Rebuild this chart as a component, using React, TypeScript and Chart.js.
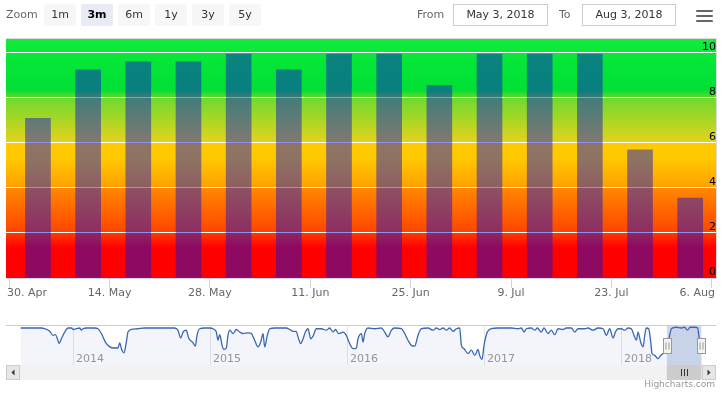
import React, { useEffect, useRef } from "react";
import { Chart, registerables } from "chart.js";

Chart.register(...registerables);

// ---------- data ----------
const AXIS_ORIGIN = "2018-04-30";
const weekDates = [
  "2018-05-04", "2018-05-11", "2018-05-18", "2018-05-25", "2018-06-01", "2018-06-08", "2018-06-15",
  "2018-06-22", "2018-06-29", "2018-07-06", "2018-07-13", "2018-07-20", "2018-07-27", "2018-08-03",
];
const weekValues = [7.1, 9.25, 9.6, 9.6, 9.95, 9.25, 9.95, 9.95, 8.55, 9.95, 9.95, 9.95, 5.7, 3.55];

const tickDates = [
  "2018-04-30", "2018-05-14", "2018-05-28", "2018-06-11", "2018-06-25", "2018-07-09", "2018-07-23", "2018-08-06",
];
const tickLabels = ["30. Apr", "14. May", "28. May", "11. Jun", "25. Jun", "9. Jul", "23. Jul", "6. Aug"];
const yTicks = [0, 2, 4, 6, 8, 10];
const yMax = 10.62;
const xMinDay = -0.46;
const xMaxDay = 98.6;

const navYears = [
  2013.618, 2013.769, 2013.793, 2013.83, 2013.854, 2013.871, 2013.886, 2013.898, 2013.915, 2013.939, 2013.964, 2013.988,
  2014.0, 2014.024, 2014.049, 2014.061, 2014.073, 2014.097, 2014.158, 2014.182, 2014.207, 2014.236, 2014.268, 2014.304,
  2014.328, 2014.341, 2014.353, 2014.372, 2014.389, 2014.401, 2014.426, 2014.474, 2014.523, 2014.572, 2014.62, 2014.693,
  2014.742, 2014.766, 2014.786, 2014.803, 2014.827, 2014.844, 2014.876, 2014.893, 2014.905, 2014.925, 2014.961, 2014.998,
  2015.022, 2015.046, 2015.058, 2015.071, 2015.088, 2015.102, 2015.119, 2015.131, 2015.144, 2015.168, 2015.192, 2015.217,
  2015.241, 2015.277, 2015.302, 2015.326, 2015.35, 2015.37, 2015.387, 2015.399, 2015.418, 2015.436, 2015.472, 2015.521,
  2015.557, 2015.582, 2015.606, 2015.63, 2015.642, 2015.662, 2015.679, 2015.696, 2015.715, 2015.735, 2015.752, 2015.776,
  2015.813, 2015.849, 2015.873, 2015.898, 2015.915, 2015.939, 2015.971, 2015.995, 2016.019, 2016.044, 2016.068, 2016.08,
  2016.105, 2016.117, 2016.129, 2016.153, 2016.202, 2016.251, 2016.275, 2016.299, 2016.324, 2016.348, 2016.397, 2016.421,
  2016.445, 2016.47, 2016.494, 2016.518, 2016.543, 2016.591, 2016.628, 2016.652, 2016.676, 2016.701, 2016.725, 2016.749,
  2016.774, 2016.798, 2016.822, 2016.835, 2016.854, 2016.883, 2016.908, 2016.932, 2016.956, 2016.968, 2016.985, 2017.0,
  2017.024, 2017.054, 2017.102, 2017.151, 2017.2, 2017.248, 2017.273, 2017.292, 2017.309, 2017.345, 2017.37, 2017.389,
  2017.418, 2017.438, 2017.467, 2017.491, 2017.516, 2017.54, 2017.577, 2017.601, 2017.637, 2017.662, 2017.686, 2017.735,
  2017.759, 2017.796, 2017.832, 2017.869, 2017.893, 2017.917, 2017.942, 2017.959, 2017.978, 2018.002, 2018.027, 2018.051,
  2018.075, 2018.095, 2018.112, 2018.124, 2018.143, 2018.161, 2018.173, 2018.185, 2018.202, 2018.217, 2018.226, 2018.246,
  2018.27, 2018.29, 2018.307, 2018.331, 2018.355, 2018.367, 2018.404, 2018.44, 2018.465, 2018.484, 2018.504, 2018.54,
  2018.56, 2018.569, 2018.589,
];
const navValues = [
  10.0, 10.0, 9.8, 9.1, 8.0, 8.2, 7.1, 5.8, 7.1, 8.9, 10.0, 10.0,
  9.6, 9.8, 10.0, 9.4, 9.8, 10.0, 10.0, 9.8, 8.5, 6.2, 4.9, 4.6,
  4.6, 6.0, 4.4, 3.3, 6.2, 8.9, 9.6, 9.8, 10.0, 10.0, 10.0, 10.0,
  10.0, 9.4, 7.3, 8.9, 9.4, 7.3, 6.0, 5.1, 8.0, 9.8, 10.0, 10.0,
  9.8, 8.9, 6.7, 8.2, 5.3, 4.2, 4.6, 8.0, 9.4, 8.5, 9.6, 8.9,
  8.5, 8.7, 8.5, 6.7, 4.9, 6.2, 8.5, 4.9, 8.0, 9.8, 10.0, 10.0,
  10.0, 9.6, 9.1, 9.1, 7.6, 5.8, 7.1, 8.9, 9.8, 7.1, 7.8, 9.8,
  9.8, 9.4, 10.0, 8.9, 9.6, 8.5, 8.9, 8.0, 5.8, 4.4, 4.6, 7.1,
  8.5, 6.2, 8.5, 10.0, 9.8, 10.0, 8.9, 7.6, 9.4, 10.0, 9.8, 8.5,
  6.7, 5.3, 5.1, 8.0, 9.8, 10.0, 9.4, 10.0, 9.6, 10.0, 9.4, 10.0,
  9.1, 9.8, 10.0, 5.3, 4.4, 3.1, 4.0, 2.6, 4.2, 2.6, 1.5, 5.3,
  8.9, 9.8, 10.0, 10.0, 10.0, 9.8, 10.0, 8.9, 9.8, 10.0, 9.4, 10.0,
  8.9, 10.0, 8.5, 9.4, 8.2, 9.8, 9.6, 10.0, 10.0, 8.9, 9.8, 9.8,
  10.0, 9.4, 10.0, 9.8, 8.0, 9.8, 7.3, 8.9, 9.8, 9.8, 9.4, 10.0,
  9.8, 8.0, 6.7, 8.9, 6.2, 4.9, 8.0, 10.0, 9.8, 6.2, 3.1, 2.6,
  1.7, 2.6, 3.1, 3.5, 8.0, 9.8, 10.2, 10.0, 10.2, 9.4, 10.2, 10.2,
  10.0, 7.6, 6.0,
];
const navYearTicks = [2014, 2015, 2016, 2017, 2018];
const navMin = 2013.613;
const navMax = 2018.591;
const navYMax = 10.81;
const rangeFrom = "2018-05-03";
const rangeTo = "2018-08-03";
const rangeButtons = ["1m", "3m", "6m", "1y", "3y", "5y"];
const selectedButton = "3m";
const fromText = "May 3, 2018";
const toText = "Aug 3, 2018";

// ---------- styles ----------
const FONT = "'DejaVu Sans', 'Noto Sans', sans-serif";
const BAR_COLOR = "rgba(15, 20, 208, 0.47)";
const BG_STOPS: [number, string][] = [
  [0, "#ff0000"],
  [1.35, "#ff0000"],
  [1.98, "#ff3800"],
  [2.02, "#ff4400"],
  [3.98, "#ff8800"],
  [4.02, "#ffa000"],
  [5.3, "#ffc800"],
  [5.98, "#ffcc00"],
  [6.02, "#e6d21c"],
  [7.95, "#72da2e"],
  [8.1, "#50d92c"],
  [8.35, "#00df35"],
  [9.6, "#06e638"],
  [10.62, "#12ec3c"],
];

const MS_DAY = 86400000;
const dayOf = (d: string) => (Date.parse(d) - Date.parse(AXIS_ORIGIN)) / MS_DAY;
const yearFrac = (d: string) => {
  const t = Date.parse(d);
  const y = new Date(t).getUTCFullYear();
  const a = Date.UTC(y, 0, 1);
  const b = Date.UTC(y + 1, 0, 1);
  return y + (t - a) / (b - a);
};

const plotBgPlugin = {
  id: "plotBg",
  beforeDraw(chart: any) {
    const { ctx, chartArea: a, scales } = chart;
    const y = scales.y;
    const y0 = y.getPixelForValue(0);
    const y1 = y.getPixelForValue(yMax);
    const g = ctx.createLinearGradient(0, y0, 0, y1);
    BG_STOPS.forEach(([v, c]) => g.addColorStop(Math.min(1, v / yMax), c));
    ctx.save();
    ctx.fillStyle = g;
    ctx.fillRect(a.left, a.top, a.right - a.left, a.bottom - a.top);
    ctx.strokeStyle = "#dcdcdc";
    ctx.lineWidth = 1;
    ctx.beginPath();
    ctx.moveTo(a.left, a.top - 0.5);
    ctx.lineTo(a.right + 0.5, a.top - 0.5);
    ctx.lineTo(a.right + 0.5, a.bottom);
    ctx.stroke();
    ctx.restore();

    // justify edge x-axis labels inside the plot width (Highcharts "overflow: justify")
    const sx = scales.x;
    const items = sx.getLabelItems(a);
    ctx.save();
    ctx.font = `11px ${FONT}`;
    items.forEach((it: any) => {
      const label = Array.isArray(it.label) ? it.label.join(" ") : String(it.label);
      const w = ctx.measureText(label).width;
      const cx = it.options.translation[0];
      if (cx - w / 2 < a.left + 1) it.options.translation[0] = a.left + 1 + w / 2;
      else if (cx + w / 2 > a.right - 1) it.options.translation[0] = a.right - 1 - w / 2;
    });
    ctx.restore();
  },
};

const navPlugin = {
  id: "navDeco",
  beforeDatasetsDraw(chart: any) {
    const { ctx, chartArea: a, scales } = chart;
    const l = scales.x.getPixelForValue(yearFrac(rangeFrom));
    const r = scales.x.getPixelForValue(yearFrac(rangeTo));
    ctx.save();
    ctx.fillStyle = "rgba(102,133,194,0.3)";
    ctx.fillRect(l, a.top, r - l, a.bottom - a.top);
    ctx.restore();
  },
  afterDraw(chart: any) {
    const { ctx, chartArea: a, scales, width } = chart;
    const l = scales.x.getPixelForValue(yearFrac(rangeFrom));
    const r = scales.x.getPixelForValue(yearFrac(rangeTo));
    ctx.save();
    // outline
    ctx.strokeStyle = "#cccccc";
    ctx.lineWidth = 1;
    ctx.beginPath();
    ctx.moveTo(6, a.top + 0.5);
    ctx.lineTo(width - 6, a.top + 0.5);
    ctx.stroke();
    // scrollbar track
    const sTop = a.bottom;
    const sH = 15;
    ctx.fillStyle = "#f2f2f2";
    ctx.fillRect(6, sTop, width - 12, sH);
    // buttons
    const btn = (x: number, dir: number) => {
      ctx.fillStyle = "#e6e6e6";
      ctx.fillRect(x, sTop, 14, sH);
      ctx.strokeStyle = "#cccccc";
      ctx.strokeRect(x + 0.5, sTop + 0.5, 13, sH - 1);
      ctx.fillStyle = "#333333";
      const cx = x + 7;
      const cy = sTop + sH / 2;
      ctx.beginPath();
      ctx.moveTo(cx - 1.5 * dir, cy);
      ctx.lineTo(cx + 1.5 * dir, cy - 3);
      ctx.lineTo(cx + 1.5 * dir, cy + 3);
      ctx.closePath();
      ctx.fill();
    };
    btn(6, 1);
    btn(width - 20, -1);
    // thumb
    ctx.fillStyle = "#cccccc";
    ctx.fillRect(l, sTop, r - l, sH);
    ctx.strokeStyle = "#333333";
    const mid = Math.round((l + r) / 2);
    [-3, 0, 3].forEach((d) => {
      ctx.beginPath();
      ctx.moveTo(mid + d + 0.5, sTop + 4);
      ctx.lineTo(mid + d + 0.5, sTop + 11);
      ctx.stroke();
    });
    // handles
    const hTop = a.top + 13.5;
    const handle = (x: number) => {
      const hx = Math.round(x) - 4 + 0.5;
      ctx.fillStyle = "#f2f2f2";
      ctx.fillRect(hx, hTop, 8, 15);
      ctx.strokeStyle = "#999999";
      ctx.strokeRect(hx, hTop, 8, 15);
      ctx.beginPath();
      ctx.moveTo(hx + 2.5, hTop + 4);
      ctx.lineTo(hx + 2.5, hTop + 11);
      ctx.moveTo(hx + 5.5, hTop + 4);
      ctx.lineTo(hx + 5.5, hTop + 11);
      ctx.stroke();
    };
    handle(l);
    handle(r);
    ctx.restore();
  },
};

function MainChart() {
  const ref = useRef<HTMLCanvasElement | null>(null);
  useEffect(() => {
    if (!ref.current) return;
    const chart = new Chart(ref.current, {
      type: "bar",
      data: {
        datasets: [
          {
            data: weekDates.map((d, i) => ({ x: dayOf(d), y: weekValues[i] })),
            backgroundColor: BAR_COLOR,
            borderWidth: 0,
            barThickness: 25,
          } as any,
        ],
      },
      options: {
        responsive: false,
        animation: false,
        devicePixelRatio: 1,
        layout: { padding: { left: 6, right: 6, top: 39, bottom: 0 } },
        plugins: { legend: { display: false }, tooltip: { enabled: false } },
        scales: {
          x: {
            type: "linear",
            min: xMinDay,
            max: xMaxDay,
            offset: false,
            grid: { offset: false, drawOnChartArea: false, drawTicks: true, tickLength: 10, color: "#ccd6eb" },
            border: { display: true, color: "#ccd6eb" },
            ticks: {
              autoSkip: false,
              maxRotation: 0,
              padding: -1,
              color: "#666666",
              font: { family: FONT, size: 11 },
              callback: (_v: any, i: number) => tickLabels[i] ?? "",
            },
            afterBuildTicks: (s: any) => {
              s.ticks = tickDates.map((d) => ({ value: dayOf(d) }));
            },
            afterFit: (s: any) => {
              s.height = 34;
              s.paddingLeft = 0;
              s.paddingRight = 0;
            },
          } as any,
          y: {
            position: "right",
            min: 0,
            max: yMax,
            grid: {
              color: (c: any) => (c.tick && c.tick.value === 0 ? "rgba(0,0,0,0)" : "#ffffff"),
              drawTicks: false,
              lineWidth: 1,
            },
            border: { display: false },
            ticks: {
              mirror: true,
              padding: 0,
              labelOffset: -6,
              color: "#000000",
              font: { family: FONT, size: 11 },
              callback: (v: any) => String(v),
            },
            afterBuildTicks: (s: any) => {
              s.ticks = yTicks.map((v) => ({ value: v }));
            },
            afterFit: (s: any) => {
              s.width = 0;
              s.paddingTop = 0;
              s.paddingBottom = 0;
            },
          } as any,
        },
      },
      plugins: [plotBgPlugin],
    });
    return () => chart.destroy();
  }, []);
  return (
    <canvas
      ref={ref}
      width={722}
      height={312}
      style={{ position: "absolute", left: 0, top: 0, width: 722, height: 312 }}
    />
  );
}

function Navigator() {
  const ref = useRef<HTMLCanvasElement | null>(null);
  useEffect(() => {
    if (!ref.current) return;
    const chart = new Chart(ref.current, {
      type: "line",
      data: {
        datasets: [
          {
            data: navYears.map((x, i) => ({ x, y: navValues[i] })),
            borderColor: "#3a66b6",
            borderWidth: 1.3,
            backgroundColor: "rgba(51,92,173,0.06)",
            fill: "origin",
            pointRadius: 0,
            cubicInterpolationMode: "monotone",
          } as any,
        ],
      },
      options: {
        responsive: false,
        animation: false,
        devicePixelRatio: 1,
        layout: { padding: { left: 20, right: 20, top: 10, bottom: 20 } },
        plugins: { legend: { display: false }, tooltip: { enabled: false } },
        scales: {
          x: {
            type: "linear",
            min: navMin,
            max: navMax,
            grid: { color: "#e6e6e6", drawTicks: false },
            border: { display: false },
            ticks: {
              align: "start",
              mirror: true,
              labelOffset: 3,
              padding: -1,
              autoSkip: false,
              maxRotation: 0,
              color: "#999999",
              font: { family: FONT, size: 11 },
              callback: (v: any) => String(v),
            },
            afterBuildTicks: (s: any) => {
              s.ticks = navYearTicks.map((v) => ({ value: v }));
            },
            afterFit: (s: any) => {
              s.height = 0;
              s.paddingLeft = 0;
              s.paddingRight = 0;
            },
          } as any,
          y: { display: false, min: 0, max: navYMax },
        },
      },
      plugins: [navPlugin],
    });
    return () => chart.destroy();
  }, []);
  return (
    <canvas
      ref={ref}
      width={722}
      height={70}
      style={{ position: "absolute", left: 0, top: 315, width: 722, height: 70 }}
    />
  );
}

export default function App() {
  const txt: React.CSSProperties = {
    position: "absolute",
    top: 4,
    height: 22,
    lineHeight: "22px",
    fontSize: 11,
    color: "#666666",
    whiteSpace: "nowrap",
  };
  return (
    <div
      style={{
        position: "fixed",
        left: 0,
        top: 0,
        width: 722,
        height: 395,
        background: "#ffffff",
        fontFamily: FONT,
        overflow: "hidden",
      }}
    >
      <MainChart />
      <Navigator />
      <div style={{ ...txt, left: 6 }}>Zoom</div>
      {rangeButtons.map((b, i) => (
        <div
          key={b}
          style={{
            ...txt,
            left: 44 + i * 37,
            width: 32,
            textAlign: "center",
            borderRadius: 2,
            background: b === selectedButton ? "#e6ebf5" : "#f7f7f7",
            color: b === selectedButton ? "#000000" : "#333333",
            fontWeight: b === selectedButton ? "bold" : "normal",
          }}
        >
          {b}
        </div>
      ))}
      <div style={{ ...txt, left: 417 }}>From</div>
      <div
        style={{
          ...txt,
          left: 453,
          width: 95,
          boxSizing: "border-box",
          border: "1px solid #cccccc",
          lineHeight: "20px",
          textAlign: "center",
          color: "#333333",
        }}
      >
        {fromText}
      </div>
      <div style={{ ...txt, left: 559 }}>To</div>
      <div
        style={{
          ...txt,
          left: 582,
          width: 94,
          boxSizing: "border-box",
          border: "1px solid #cccccc",
          lineHeight: "20px",
          textAlign: "center",
          color: "#333333",
        }}
      >
        {toText}
      </div>
      {[9.5, 14.5, 19.5].map((t) => (
        <div
          key={t}
          style={{ position: "absolute", left: 696, top: t, width: 17, height: 2.5, background: "#666666", borderRadius: 1 }}
        />
      ))}
      <div
        style={{
          position: "absolute",
          right: 7,
          top: 379,
          fontSize: 9,
          color: "#999999",
          whiteSpace: "nowrap",
        }}
      >
        Highcharts.com
      </div>
    </div>
  );
}
